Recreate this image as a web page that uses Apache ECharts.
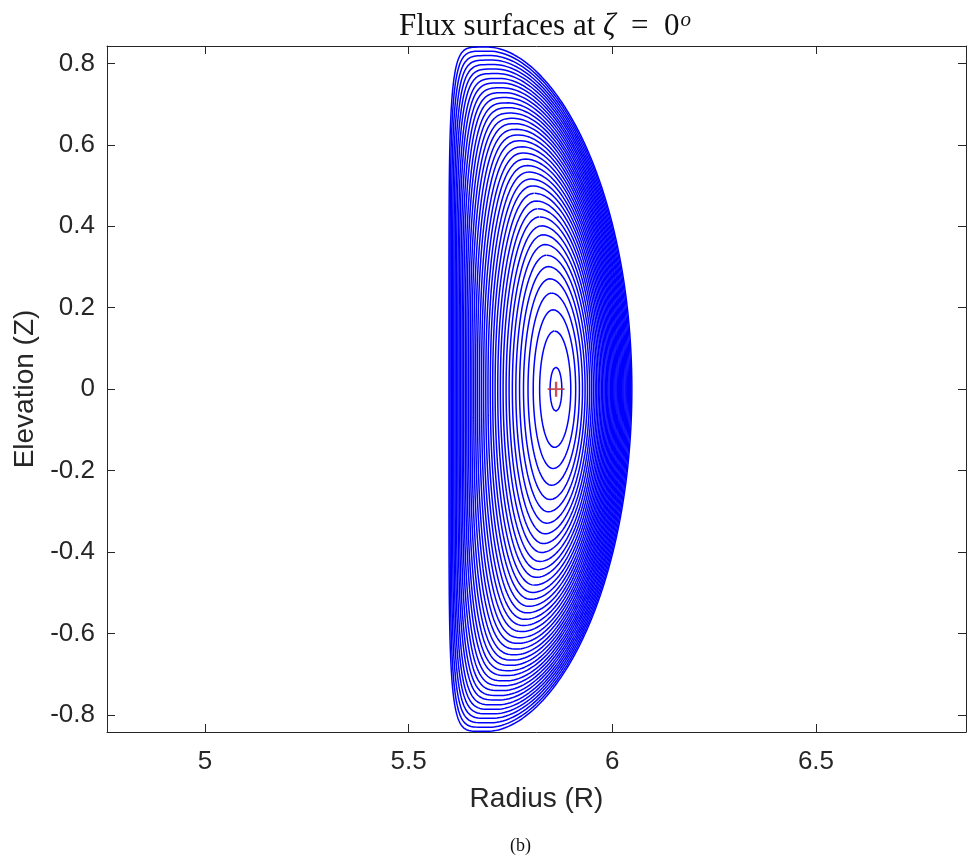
<!DOCTYPE html>
<html>
<head>
<meta charset="utf-8">
<title>Flux surfaces</title>
<script src="https://cdn.jsdelivr.net/npm/echarts@6/dist/echarts.min.js"></script>
<style>
  html, body { margin: 0; padding: 0; background: #ffffff; }
  #chart { width: 967px; height: 859px; }
</style>
</head>
<body>
<div id="chart"></div>
<script>
// Axis ticks
const xTickValues = [5, 5.5, 6, 6.5];
const yTickValues = [-0.8, -0.6, -0.4, -0.2, 0, 0.2, 0.4, 0.6, 0.8];

// Half-height (Z at the top) of each plotted flux surface, innermost first
const surfaceHalfHeight = [
  0.054, 0.143, 0.195, 0.236, 0.271, 0.301, 0.329, 0.355, 0.379, 0.401,
  0.423, 0.443, 0.462, 0.481, 0.499, 0.516, 0.533, 0.549, 0.565, 0.580,
  0.595, 0.610, 0.624, 0.638, 0.652, 0.665, 0.678, 0.691, 0.703, 0.716,
  0.728, 0.740, 0.752, 0.763, 0.775, 0.786, 0.797, 0.808, 0.819, 0.830,
  0.840
];

// Last closed surface: inboard / outboard midplane radius, radius at the top
const edgeInnerR = 5.599;
const edgeOuterR = 6.048;
const edgeTopR = 5.695;

// Magnetic axis (R, Z)
const magneticAxis = [5.862, 0];

// Trace one closed surface through its inboard, outboard and top points.
function traceSurface(halfHeight) {
  const edgeHalfHeight = surfaceHalfHeight[surfaceHalfHeight.length - 1];
  const rho = halfHeight / edgeHalfHeight;
  const edgeCenter = (edgeInnerR + edgeOuterR) / 2;
  const edgeMinor = (edgeOuterR - edgeInnerR) / 2;
  const edgeTri = (edgeCenter - edgeTopR) / edgeMinor;
  // Shafranov shift of the centre, growing minor radius and triangularity
  const g = 1 - rho * rho;
  const center = edgeCenter + (magneticAxis[0] - edgeCenter) * g * g;
  const minor = edgeMinor * rho;
  const rIn = center - minor;
  const rOut = center + minor;
  const rTop = center - minor * edgeTri * Math.pow(rho, 1.5);
  const zTop = halfHeight;
  const zc = magneticAxis[1];
  // flat inboard side develops towards the edge
  const nLeft = 2 + 4 * Math.pow(rho, 6);
  const pRight = 1 + 0.1 * rho * rho;
  const pts = [];
  const N = 240;
  // outboard half: top -> midplane -> bottom
  for (let i = 0; i <= N; i++) {
    const phi = Math.PI / 2 - Math.PI * i / N;
    const c = Math.max(0, Math.cos(phi));
    pts.push([rTop + (rOut - rTop) * Math.pow(c, pRight), zc + zTop * Math.sin(phi)]);
  }
  // inboard half: bottom -> midplane -> top
  for (let i = 1; i <= N; i++) {
    const psi = Math.PI * i / N;
    const u = Math.cos(psi), w = Math.abs(Math.sin(psi));
    const zz = -zTop * Math.sign(u) * Math.pow(Math.abs(u), 2 / nLeft);
    const rr = rTop - (rTop - rIn) * Math.pow(w, 2 / nLeft);
    pts.push([rr, zc + zz]);
  }
  return pts;
}

const axisColor = '#262626';
const tickFont = 'Liberation Sans, Arial, Helvetica, sans-serif';
const serifFont = 'Liberation Serif, DejaVu Serif, serif';

const surfaceSeries = surfaceHalfHeight.map(function (h, i) {
  return {
    type: 'line',
    name: 'surface ' + (i + 1),
    data: traceSurface(h),
    showSymbol: false,
    symbol: 'none',
    smooth: false,
    clip: true,
    lineStyle: { color: '#0000ff', width: 1.5 },
    emphasis: { disabled: true },
    silent: true,
    z: 2
  };
});

const axisSeries = {
  type: 'scatter',
  name: 'magnetic axis',
  data: [magneticAxis],
  symbol: 'path://M0,8.8H20V11.2H0Z M8.6,0H11.4V20H8.6Z',
  symbolSize: [17, 15],
  itemStyle: { color: '#c0303c', opacity: 0.85 },
  silent: true,
  z: 5
};

const xMin = 4.7594, xMax = 6.8684;
const yMin = -0.8416, yMax = 0.8426;

const chart = echarts.init(document.getElementById('chart'), null, { renderer: 'canvas' });
chart.setOption({
  animation: false,
  backgroundColor: '#ffffff',
  title: {
    text: 'Flux surfaces at {it|ζ}  =  0{sup|o}',
    left: 540,
    top: 5,
    textAlign: 'center',
    textStyle: {
      fontFamily: serifFont,
      fontSize: 31,
      fontWeight: 'normal',
      color: '#111111',
      rich: {
        it: { fontFamily: serifFont, fontStyle: 'italic', fontSize: 31, color: '#111111' },
        sup: { fontFamily: serifFont, fontStyle: 'italic', fontSize: 21, color: '#111111', verticalAlign: 'top', padding: [0, 0, 12, 1] }
      }
    }
  },
  grid: { left: 107, top: 46, right: 1, bottom: 127, containLabel: false },
  xAxis: [
    {
      type: 'value', position: 'bottom', min: xMin, max: xMax,
      name: 'Radius (R)', nameLocation: 'middle', nameGap: 53,
      nameTextStyle: { fontFamily: tickFont, fontSize: 28, color: axisColor },
      axisLine: { show: true, onZero: false, lineStyle: { color: axisColor, width: 1 } },
      axisTick: { show: true, inside: true, length: 8, customValues: xTickValues, lineStyle: { color: axisColor, width: 1 } },
      axisLabel: { show: true, customValues: xTickValues, fontFamily: tickFont, fontSize: 26, color: axisColor, margin: 17 },
      splitLine: { show: false }
    },
    {
      type: 'value', position: 'top', min: xMin, max: xMax,
      axisLine: { show: true, onZero: false, lineStyle: { color: axisColor, width: 1 } },
      axisTick: { show: true, inside: true, length: 8, customValues: xTickValues, lineStyle: { color: axisColor, width: 1 } },
      axisLabel: { show: false },
      splitLine: { show: false }
    }
  ],
  yAxis: [
    {
      type: 'value', position: 'left', min: yMin, max: yMax,
      name: 'Elevation (Z)', nameLocation: 'middle', nameGap: 62, nameRotate: 90,
      nameTextStyle: { fontFamily: tickFont, fontSize: 28, color: axisColor },
      axisLine: { show: true, onZero: false, lineStyle: { color: axisColor, width: 1 } },
      axisTick: { show: true, inside: true, length: 8, customValues: yTickValues, lineStyle: { color: axisColor, width: 1 } },
      axisLabel: { show: true, customValues: yTickValues, fontFamily: tickFont, fontSize: 26, color: axisColor, margin: 12 },
      splitLine: { show: false }
    },
    {
      type: 'value', position: 'right', min: yMin, max: yMax,
      axisLine: { show: true, onZero: false, lineStyle: { color: axisColor, width: 1 } },
      axisTick: { show: true, inside: true, length: 8, customValues: yTickValues, lineStyle: { color: axisColor, width: 1 } },
      axisLabel: { show: false },
      splitLine: { show: false }
    }
  ],
  graphic: [
    {
      type: 'text',
      left: 510,
      top: 837,
      style: {
        text: '(b)',
        fontFamily: serifFont,
        fontSize: 18,
        fill: '#111111'
      }
    }
  ],
  series: surfaceSeries.concat([axisSeries])
});
</script>
</body>
</html>
